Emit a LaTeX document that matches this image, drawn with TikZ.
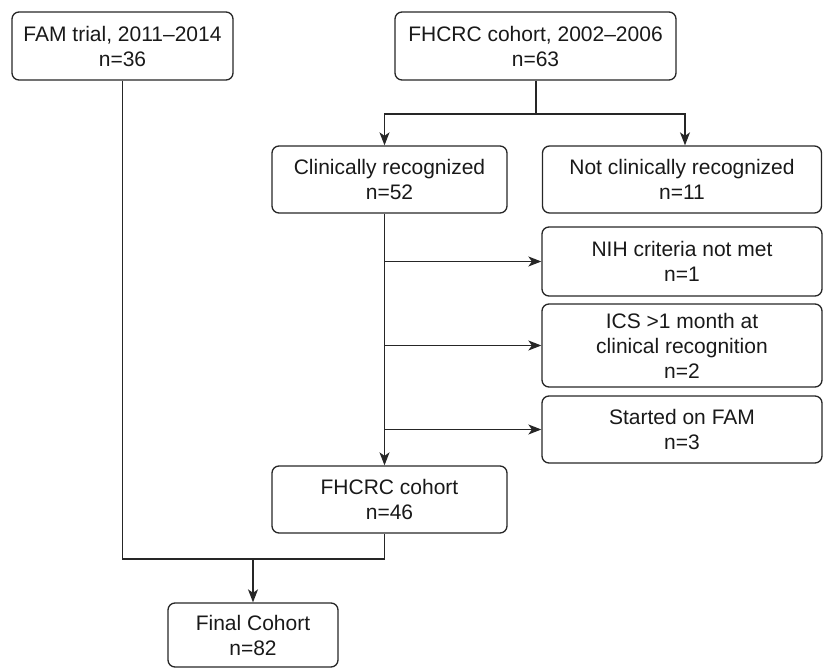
\documentclass[tikz,border=0pt]{standalone}
\usepackage{fontspec}
\setmainfont{Liberation Sans}
\usetikzlibrary{arrows.meta}
\begin{document}
\begin{tikzpicture}[x=1pt,y=-1pt,
  box/.style={draw=black!85, line width=1.3pt, rounded corners=7pt, align=center,
    inner sep=0pt, font=\fontsize{21}{25}\selectfont, text=black!90},
  conn/.style={draw=black!85, line width=1.3pt},
  arr/.style={conn, -{Stealth[length=13pt,width=10pt,inset=3.5pt]}}]
\useasboundingbox (0,0) rectangle (823,668);
\node[box, minimum width=221pt, minimum height=68pt] (fam) at (122.5,46) {FAM trial, 2011–2014\\n=36};
\node[box, minimum width=281pt, minimum height=68pt] (fhtop) at (535.5,46) {FHCRC cohort, 2002–2006\\n=63};
\node[box, minimum width=235pt, minimum height=67pt] (clin) at (389.5,179.5) {Clinically recognized\\n=52};
\node[box, minimum width=279pt, minimum height=67pt] (notclin) at (682,179.5) {Not clinically recognized\\n=11};
\node[box, minimum width=280pt, minimum height=69pt] (nih) at (682,261.5) {NIH criteria not met\\n=1};
\node[box, minimum width=280pt, minimum height=83pt] (ics) at (682,345.5) {ICS >1 month at\\clinical recognition\\n=2};
\node[box, minimum width=280pt, minimum height=67pt] (started) at (682,429.5) {Started on FAM\\n=3};
\node[box, minimum width=235pt, minimum height=67pt] (fhbot) at (389.5,499.5) {FHCRC cohort\\n=46};
\node[box, minimum width=170pt, minimum height=64pt] (final) at (253,635) {Final Cohort\\n=82};
\coordinate (split) at (536,114);
\coordinate (spine) at (384.5,0);
\coordinate (join) at (253,559);
% split from top FHCRC
\draw[conn] (fhtop.south -| split) -- (split);
\draw[arr] (split) -| (clin.north -| spine);
\draw[arr] (split) -| (notclin.north -| 685,0);
% spine down
\draw[arr] (clin.south -| spine) -- (fhbot.north -| spine);
\draw[arr] (nih.west -| spine) -- (nih.west);
\draw[arr] (ics.west -| spine) -- (ics.west);
\draw[arr] (started.west -| spine) -- (started.west);
% join
\draw[conn] (fam.south) |- (join) -| (fhbot.south -| spine);
\draw[arr] (join) -- (final.north);
\end{tikzpicture}
\end{document}
